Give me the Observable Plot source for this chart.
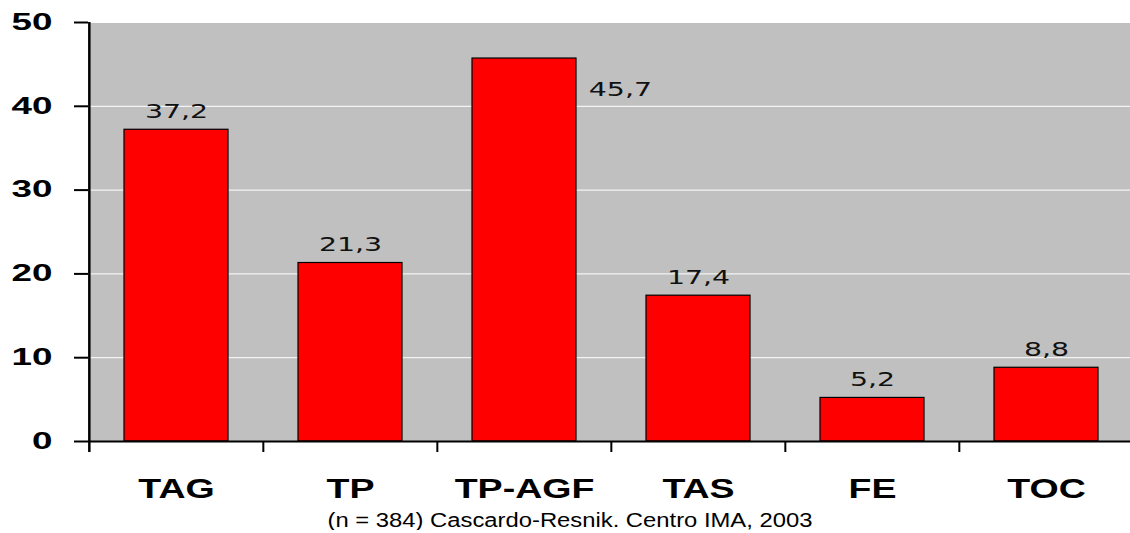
<!DOCTYPE html>
<html>
<head>
<meta charset="utf-8">
<script src="https://cdn.jsdelivr.net/npm/d3@7"></script>
<script src="https://cdn.jsdelivr.net/npm/@observablehq/plot@0.6"></script>
<style>
  html, body { margin: 0; padding: 0; background: #fff; }
  #chart svg { display: block; }
  #caption {
    width: 1140px;
    margin-top: 5px;
    font: 20px/20px "Liberation Sans", Arial, sans-serif;
    color: #000;
    text-align: center;
    transform: scaleX(1.19);
    transform-origin: 570px 0;
    white-space: nowrap;
  }
</style>
</head>
<body>
<div id="chart"></div>
<div id="caption">(n = 384) Cascardo-Resnik. Centro IMA, 2003</div>
<script>
// Distribution by category (%)
const categories = ["TAG", "TP", "TP-AGF", "TAS", "FE", "TOC"];
const values = [37.2, 21.3, 45.7, 17.4, 5.2, 8.8];
const valueLabels = ["37,2", "21,3", "45,7", "17,4", "5,2", "8,8"];
const yTicks = [0, 10, 20, 30, 40, 50];

const rows = categories.map((cat, i) => ({cat, value: values[i], label: valueLabels[i]}));

const W = 1130, H = 505;
const xRange = [88, 1134];
const plotTop = 22, plotBottom = 441;
const step = (xRange[1] - xRange[0]) / categories.length;
const padInner = 0.4;
const bandwidth = step * (1 - padInner);
const tickLen = 11;

// tall bars get their value beside the bar instead of above
const besideLimit = 45;
const above = rows.filter(d => d.value < besideLimit);
const beside = rows.filter(d => d.value >= besideLimit);

const svg = Plot.plot({
  width: W,
  height: H,
  marginLeft: xRange[0],
  marginRight: 0,
  marginTop: plotTop,
  marginBottom: H - plotBottom,
  style: {fontFamily: "'Liberation Sans', Arial, sans-serif", background: "white", color: "black"},
  x: {domain: categories, range: xRange, paddingInner: padInner, paddingOuter: padInner / 2},
  y: {domain: [0, 50]},
  marks: [
    Plot.frame({fill: "#c0c0c0", stroke: null}),
    Plot.gridY(yTicks, {stroke: "white", strokeOpacity: 1, strokeWidth: 1}),
    Plot.barY(rows, {x: "cat", y: "value", fill: "#ff0000", stroke: "#000", strokeWidth: 1.2}),
    Plot.text(above, {x: "cat", y: "value", text: "label", lineAnchor: "bottom", dy: -12,
      fontFamily: "DejaVu Sans", fontSize: 20, fill: "#111"}),
    Plot.text(beside, {x: "cat", y: "value", text: "label", lineAnchor: "bottom", textAnchor: "start",
      dx: bandwidth / 2 + 12, dy: 37, fontFamily: "DejaVu Sans", fontSize: 20, fill: "#111"}),
    Plot.ruleY([0], {strokeWidth: 2}),
    // left axis line, running down past the baseline
    Plot.ruleX(categories.slice(0, 1), {dx: -step / 2, strokeWidth: 2.5, insetBottom: -tickLen}),
    // boundary ticks between categories
    Plot.ruleX(categories.slice(1), {dx: -step / 2, y1: 0, y2: 0, insetBottom: -tickLen, strokeWidth: 2}),
    Plot.axisY(yTicks, {tickSize: 14, tickPadding: 22, strokeWidth: 2, fontSize: 23, fontWeight: "bold", label: null}),
    Plot.axisX({tickSize: 0, tickPadding: 37, fontSize: 28, fontWeight: "bold", label: null})
  ]
});

// widen the glyphs horizontally around their anchor point
function stretch(root, selector, k) {
  root.querySelectorAll(selector).forEach(t => {
    const tr = t.getAttribute("transform");
    if (tr) {
      t.setAttribute("transform", tr + ` scale(${k},1)`);
    } else {
      const x = +t.getAttribute("x") || 0, y = +t.getAttribute("y") || 0;
      t.setAttribute("transform", `translate(${x},${y}) scale(${k},1) translate(${-x},${-y})`);
    }
  });
}
stretch(svg, 'g[aria-label="y-axis tick label"] text', 1.6);
stretch(svg, 'g[aria-label="x-axis tick label"] text', 1.34);
stretch(svg, 'g[aria-label="text"] text', 1.42);

document.getElementById("chart").appendChild(svg);
</script>
</body>
</html>
